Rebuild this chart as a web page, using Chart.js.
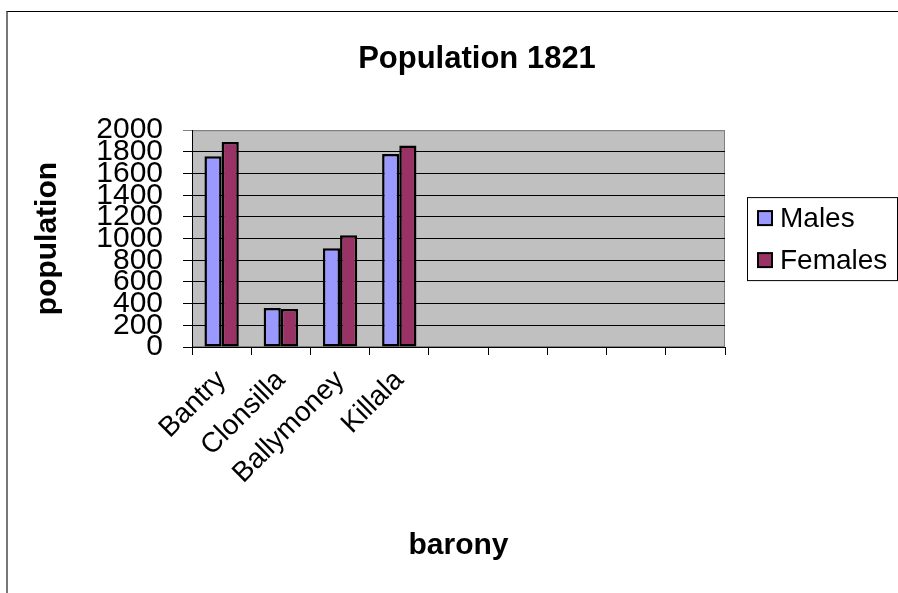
<!DOCTYPE html>
<html>
<head>
<meta charset="utf-8">
<script src="https://cdn.jsdelivr.net/npm/chart.js@4/dist/chart.umd.min.js"></script>
<style>
  html, body { margin: 0; padding: 0; background: #fff; overflow: hidden; }
  body { width: 898px; height: 593px; position: relative; }
  #frame {
    position: absolute; left: 6px; top: 11px;
    width: 940px; height: 600px;
    border-left: 2px solid #777; border-top: 1px solid #000;
  }
  #wrap { position: absolute; left: 8px; top: 12px; width: 938px; height: 581px; }
</style>
</head>
<body>
<div id="frame"></div>
<div id="wrap"><canvas id="popChart"></canvas></div>
<script>
// data
const baronies = ["Bantry", "Clonsilla", "Ballymoney", "Killala", "", "", "", "", ""];
const males = [1760, 360, 910, 1780, null, null, null, null, null];
const females = [1890, 350, 1030, 1860, null, null, null, null, null];
const yTicks = [0, 200, 400, 600, 800, 1000, 1200, 1400, 1600, 1800, 2000];

const FONT = "'Liberation Sans', Arial, sans-serif";
Chart.defaults.font.family = FONT;
Chart.defaults.color = "#000";

// grey plot area like the old spreadsheet chart
const plotBg = {
  id: "plotBg",
  beforeDraw(chart) {
    const { ctx, chartArea: a } = chart;
    ctx.save();
    ctx.fillStyle = "#C0C0C0";
    ctx.fillRect(a.left, a.top, a.right - a.left, a.bottom - a.top);
    ctx.strokeStyle = "#808080";
    ctx.lineWidth = 1;
    ctx.strokeRect(a.left + 0.5, a.top + 0.5, a.right - a.left - 1, a.bottom - a.top - 1);
    ctx.restore();
  },
};

// boxed legend to the right of the plot
const boxLegend = {
  id: "boxLegend",
  afterDraw(chart) {
    const { ctx, chartArea: a } = chart;
    const sets = chart.data.datasets;
    const left = a.right + 22, w = 150, rowH = 42;
    const h = 83;
    const top = (a.top + a.bottom) / 2 - h / 2;
    ctx.save();
    ctx.strokeStyle = "#000";
    ctx.lineWidth = 1;
    ctx.strokeRect(left + 0.5, top + 0.5, w, h);
    ctx.font = "28px " + FONT;
    ctx.textBaseline = "middle";
    sets.forEach((ds, i) => {
      const cy = top + 21 + i * rowH;
      ctx.fillStyle = ds.backgroundColor;
      ctx.fillRect(left + 11, cy - 7, 14, 14);
      ctx.lineWidth = 2;
      ctx.strokeRect(left + 11, cy - 7, 14, 14);
      ctx.fillStyle = "#000";
      ctx.fillText(ds.label, left + 33, cy + 1);
    });
    ctx.restore();
  },
};

new Chart(document.getElementById("popChart"), {
  type: "bar",
  data: {
    labels: baronies,
    datasets: [
      {
        label: "Males",
        data: males,
        backgroundColor: "#9999FF",
        borderColor: "#000",
        borderWidth: 2.5,
        borderSkipped: false,
        categoryPercentage: 0.58,
        barPercentage: 1,
      },
      {
        label: "Females",
        data: females,
        backgroundColor: "#993366",
        borderColor: "#000",
        borderWidth: 2.5,
        borderSkipped: false,
        categoryPercentage: 0.58,
        barPercentage: 1,
      },
    ],
  },
  options: {
    responsive: true,
    maintainAspectRatio: false,
    animation: false,
    devicePixelRatio: 1,
    layout: { padding: 0 },
    plugins: {
      legend: { display: false },
      tooltip: { enabled: false },
      title: {
        display: true,
        text: "Population 1821",
        font: { size: 31, weight: "bold" },
        color: "#000",
        padding: { top: 29, bottom: 52 },
      },
    },
    scales: {
      x: {
        grid: { drawOnChartArea: false, drawTicks: true, tickLength: 8, color: "#000", offset: true },
        border: { display: true, color: "#000", width: 1 },
        ticks: {
          autoSkip: false,
          minRotation: 45,
          maxRotation: 45,
          padding: 9,
          font: { size: 28 },
          color: "#000",
        },
        title: {
          display: true,
          text: "barony",
          font: { size: 30, weight: "bold" },
          color: "#000",
          padding: { top: 0, bottom: 29 },
        },
        afterFit(s) { s.height = 246; },
      },
      y: {
        min: 0,
        max: 2000,
        afterBuildTicks(s) { s.ticks = yTicks.map((v) => ({ value: v })); },
        grid: {
          color: (c) => (c.tick && c.tick.value === 2000 ? "#808080" : "#000"),
          tickLength: 9,
        },
        border: { display: true, color: "#000", width: 1 },
        ticks: {
          autoSkip: false,
          padding: 20,
          font: { size: 30 },
          color: "#000",
          callback: (v) => String(v),
        },
        title: {
          display: true,
          text: "population",
          font: { size: 30, weight: "bold" },
          color: "#000",
          padding: { top: 22, bottom: 0 },
        },
        afterFit(s) { s.width = 184; },
      },
      // empty right-hand band that holds the legend
      pad: {
        position: "right",
        display: true,
        grid: { display: false },
        border: { display: false },
        ticks: { display: false },
        afterFit(s) { s.width = 221; },
      },
    },
  },
  plugins: [plotBg, boxLegend],
});
</script>
</body>
</html>
